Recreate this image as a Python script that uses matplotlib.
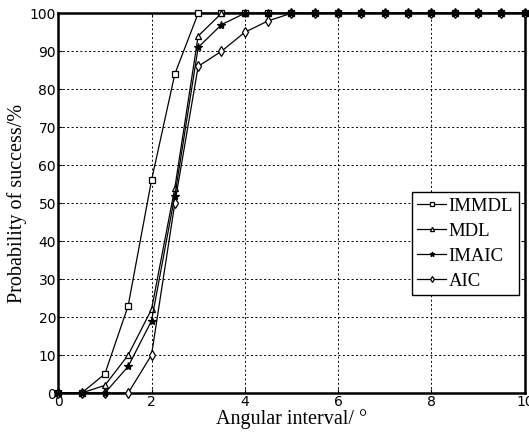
import numpy as np
import matplotlib.pyplot as plt

# angular interval (deg)
x = np.arange(0, 10.5, 0.5)

# probability of success (%)
immdl = [0, 0, 5, 23, 56, 84, 100] + [100] * 14
mdl = [0, 0, 2, 10, 22, 54, 94, 100] + [100] * 13
imaic = [0, 0, 0, 7, 19, 52, 91, 97, 100] + [100] * 12
aic = [0, 0, 0, 0, 10, 50, 86, 90, 95, 98, 100] + [100] * 10

labels = ["IMMDL", "MDL", "IMAIC", "AIC"]

fig = plt.figure(figsize=(5.29, 4.36), dpi=100)
ax = fig.add_axes([0.110, 0.0986, 0.882, 0.871])

kw = dict(lw=0.9, mew=0.9, clip_on=False)
ax.plot(x, immdl, 'k-s', ms=5, mfc='white', label=labels[0], zorder=3, **kw)
ax.plot(x, mdl, 'k-^', ms=5, mfc='white', label=labels[1], zorder=3, **kw)
ax.plot(x, imaic, 'k-*', ms=6, mfc='black', label=labels[2], zorder=5, **kw)
ax.plot(x, aic, 'k-d', ms=5, mfc='white', label=labels[3], zorder=4, **kw)

ax.set_xlim(0, 10)
ax.set_ylim(0, 100)
ax.set_xticks([0, 2, 4, 6, 8, 10])
ax.set_yticks(np.arange(0, 101, 10))
ax.tick_params(direction='in', top=True, right=True, labelsize=10, length=3, pad=1.5)
for s in ax.spines.values():
    s.set_linewidth(1.8)

ax.grid(True, color='black', linestyle=(0, (2, 2.5)), linewidth=0.7)

serif = ['Liberation Serif', 'DejaVu Serif']
ax.set_xlabel("Angular interval/ °", family=serif, fontsize=14.5, labelpad=0)
ax.set_ylabel("Probability of success/%", family=serif, fontsize=14.5, labelpad=2)

leg = ax.legend(loc='upper left', bbox_to_anchor=(0.758, 0.529), fancybox=False,
                edgecolor='black', framealpha=1, prop={'family': serif, 'size': 13.5},
                handlelength=1.5, handletextpad=0.15, borderpad=0.3, labelspacing=0.42,
                borderaxespad=0, markerscale=0.6)
leg.get_frame().set_linewidth(1.0)
leg.set_zorder(6)

fig.savefig("out.png", dpi=100)
